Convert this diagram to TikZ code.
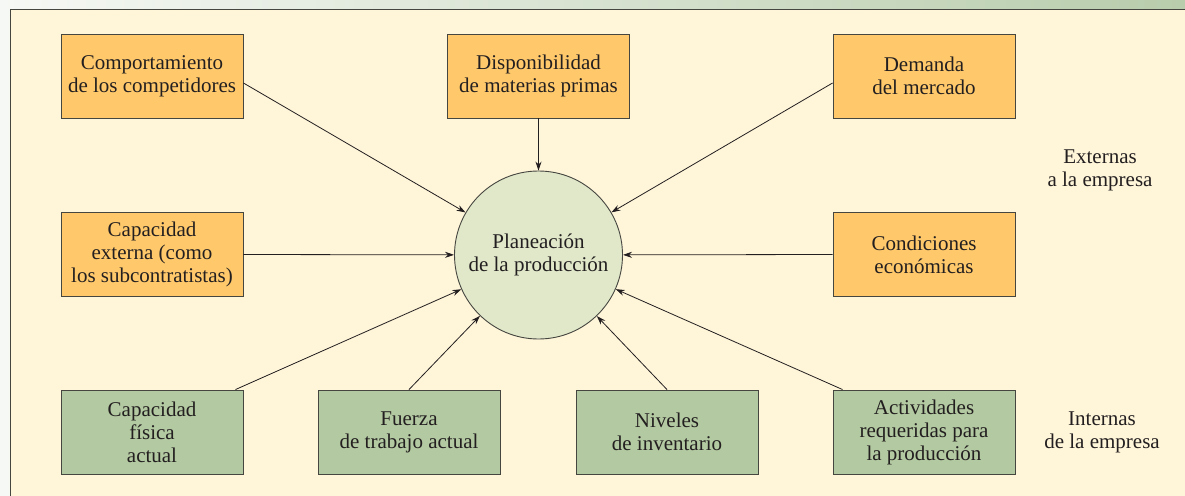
\documentclass[tikz,border=0pt]{standalone}
\usepackage{fontspec}
\setmainfont{Liberation Serif}
\usetikzlibrary{arrows.meta,calc}
\definecolor{orangebox}{RGB}{255,201,107}
\definecolor{greenbox}{RGB}{179,201,161}
\definecolor{circlefill}{RGB}{224,232,201}
\definecolor{cream}{RGB}{255,245,217}
\definecolor{framec}{RGB}{70,70,65}
\definecolor{txt}{RGB}{35,31,32}
\tikzset{
  base/.style={draw=framec, line width=0.9pt, minimum width=182pt, minimum height=84pt,
    align=center, text=txt, font=\fontsize{21}{23}\selectfont, inner sep=2pt},
  extbox/.style={base, fill=orangebox},
  intbox/.style={base, fill=greenbox},
  hub/.style={circle, draw=framec, line width=0.9pt, fill=circlefill, minimum size=168pt,
    align=center, text=txt, font=\fontsize{21}{23}\selectfont, inner sep=0pt},
  sidelabel/.style={align=center, text=txt, font=\fontsize{21}{23}\selectfont},
  conn/.style={draw=txt, line width=0.8pt, -{Stealth[length=9pt,width=6pt]}}
}
\begin{document}
\begin{tikzpicture}[x=1pt,y=-1pt]
\useasboundingbox (0,0) rectangle (1185,495);
\shade[left color={rgb,255:red,246;green,248;blue,245}, right color={rgb,255:red,184;green,205;blue,172}] (0,0) rectangle (1185,495);
\draw[fill=cream, draw=framec, line width=1.3pt] (10.5,9.5) rectangle (1210,520);

\node[hub] (plan) at (538.5,255) {Planeación\\de la producción};

\node[extbox] (comp) at (152,76) {Comportamiento\\de los competidores};
\node[extbox] (disp) at (538.5,76) {Disponibilidad\\de materias primas};
\node[extbox] (dem) at (924,76) {Demanda\\del mercado};
\node[extbox] (capext) at (152,254.5) {Capacidad\\externa (como\\los subcontratistas)};
\node[extbox] (cond) at (924,254.5) {Condiciones\\económicas};

\node[intbox] (capfis) at (152,432) {Capacidad\\física\\actual};
\node[intbox] (fuerza) at (409,432) {Fuerza\\de trabajo actual};
\node[intbox] (niv) at (667,432) {Niveles\\de inventario};
\node[intbox] (act) at (924,432) {Actividades\\requeridas para\\la producción};

\node[sidelabel] (ext) at (1100,170) {Externas\\a la empresa};
\node[sidelabel] (int) at (1102,432) {Internas\\de la empresa};

\coordinate (s1) at ([yshift=-7pt]comp.east);
\coordinate (s3) at ([yshift=-7pt]dem.west);
\coordinate (s6) at ([xshift=-8pt]capfis.north east);
\coordinate (s9) at ([xshift=10pt]act.north west);

\draw[conn] (s1) -- (plan);
\draw[conn] (disp.south) -- (plan);
\draw[conn] (s3) -- (plan);
\draw[conn] (capext.east) -- (plan);
\draw[conn] (cond.west) -- (plan);
\draw[conn] (s6) -- (plan);
\draw[conn] (fuerza.north) -- (plan);
\draw[conn] (niv.north) -- (plan);
\draw[conn] (s9) -- (plan);
\end{tikzpicture}
\end{document}
